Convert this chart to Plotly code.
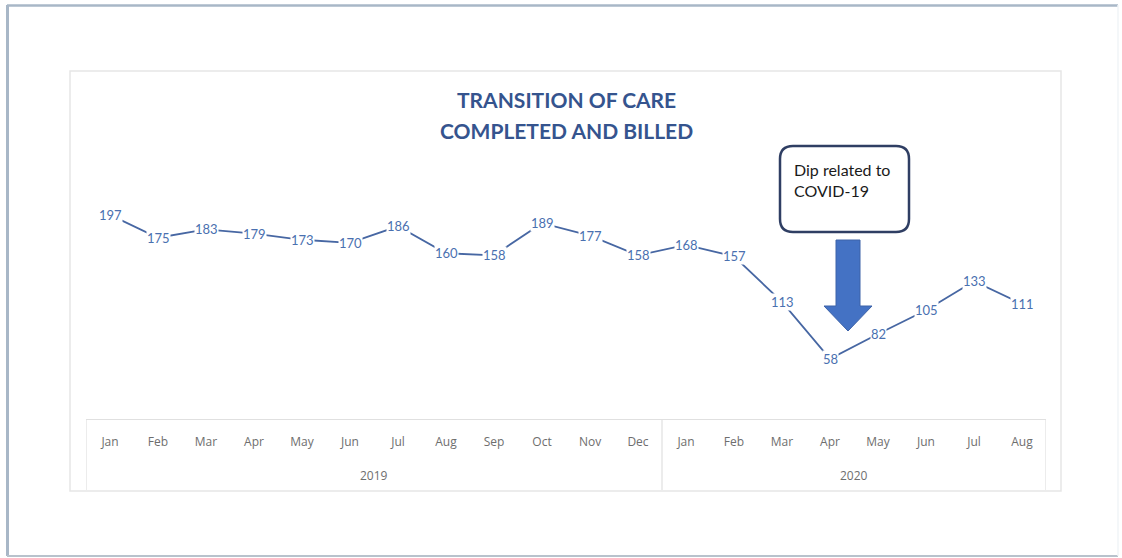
import plotly.graph_objects as go

W, H = 1122, 558

years = ["2019"] * 12 + ["2020"] * 8
months = ["Jan", "Feb", "Mar", "Apr", "May", "Jun", "Jul", "Aug", "Sep", "Oct", "Nov", "Dec",
          "Jan", "Feb", "Mar", "Apr", "May", "Jun", "Jul", "Aug"]
values = [197, 175, 183, 179, 173, 170, 186, 160, 158, 189, 177, 158,
          168, 157, 113, 58, 82, 105, 133, 111]

title_lines = ["TRANSITION OF CARE", "COMPLETED AND BILLED"]
callout_lines = ["Dip related to", "COVID-19"]


def fx(px):
    return px / W


def fy(py):
    return 1 - py / H


idx = list(range(len(values)))

fig = go.Figure()
fig.add_trace(go.Scatter(
    x=idx, y=values, mode="lines",
    line=dict(color="#4767A3", width=1.8),
    hoverinfo="skip", showlegend=False,
))

annotations = []
# data labels with white background (line stops at labels)
for i, v in zip(idx, values):
    annotations.append(dict(
        x=i, y=v, xref="x", yref="y", text=str(v), showarrow=False,
        font=dict(family="Lato", size=13, color="#4A70B0"),
        bgcolor="white", borderpad=0, xanchor="center", yanchor="middle",
    ))

# year group labels and dividers, computed from the years list
groups = []
for i, yv in enumerate(years):
    if not groups or groups[-1][0] != yv:
        groups.append([yv, i, i])
    else:
        groups[-1][2] = i

shapes = []
for yv, a, b in groups:
    annotations.append(dict(
        x=(a + b) / 2, y=fy(475), xref="x", yref="paper", text=yv, showarrow=False,
        font=dict(family="Open Sans", size=12, color="#6E6E6E"),
        xanchor="center", yanchor="middle",
    ))
bounds = [g[1] - 0.5 for g in groups] + [groups[-1][2] + 0.5]
for bx in bounds:
    shapes.append(dict(type="line", xref="x", yref="paper", x0=bx, x1=bx,
                       y0=fy(419), y1=fy(490), line=dict(color="#E0E0E0", width=1.2)))

# title
for line, ypx in zip(title_lines, [99, 130]):
    annotations.append(dict(
        x=fx(566), y=fy(ypx), xref="paper", yref="paper",
        text="<b>" + line + "</b>", showarrow=False,
        font=dict(family="Lato", size=21, color="#35548E"),
        xanchor="center", yanchor="middle",
    ))

# callout text
for line, ypx in zip(callout_lines, [169, 190]):
    annotations.append(dict(
        x=fx(792), y=fy(ypx), xref="paper", yref="paper",
        text=line, showarrow=False, align="left",
        font=dict(family="Lato", size=16, color="#1a1a1a"),
        xanchor="left", yanchor="middle",
    ))


def rounded_rect(x0, y0, x1, y1, r):
    X0, X1 = fx(x0), fx(x1)
    Y0, Y1 = fy(y0), fy(y1)
    rx, ry = r / W, r / H
    return (f"M {X0+rx},{Y0} L {X1-rx},{Y0} Q {X1},{Y0} {X1},{Y0-ry} "
            f"L {X1},{Y1+ry} Q {X1},{Y1} {X1-rx},{Y1} "
            f"L {X0+rx},{Y1} Q {X0},{Y1} {X0},{Y1+ry} "
            f"L {X0},{Y0-ry} Q {X0},{Y0} {X0+rx},{Y0} Z")


arrow_pts = [(836, 240), (860, 240), (860, 306), (872, 306), (848, 331),
             (824, 306), (836, 306)]
arrow_path = "M " + " L ".join(f"{fx(x)},{fy(y)}" for x, y in arrow_pts) + " Z"

frame_col = "#A8B7C7"
shapes += [
    # outer frame
    dict(type="line", xref="paper", yref="paper", x0=fx(7), x1=fx(1118), y0=fy(5.5), y1=fy(5.5),
         line=dict(color=frame_col, width=2.5)),
    dict(type="line", xref="paper", yref="paper", x0=fx(7.5), x1=fx(7.5), y0=fy(5), y1=fy(556),
         line=dict(color=frame_col, width=3)),
    dict(type="line", xref="paper", yref="paper", x0=fx(7), x1=fx(1118), y0=fy(556), y1=fy(556),
         line=dict(color="#B8C2CC", width=2)),
    dict(type="line", xref="paper", yref="paper", x0=fx(1118), x1=fx(1118), y0=fy(5), y1=fy(556),
         line=dict(color="#F1F4F7", width=1.5)),
    # chart area frame
    dict(type="rect", xref="paper", yref="paper", x0=fx(70), y0=fy(491), x1=fx(1061), y1=fy(71),
         line=dict(color="#E6E6E6", width=1.5), fillcolor="rgba(0,0,0,0)", layer="below"),
    # callout box
    dict(type="path", xref="paper", yref="paper", path=rounded_rect(780, 146, 909, 232, 13),
         line=dict(color="#2F3E63", width=2.5), fillcolor="white"),
    # arrow
    dict(type="path", xref="paper", yref="paper", path=arrow_path,
         line=dict(color="#3C62A8", width=1), fillcolor="#4472C4"),
]

fig.update_layout(
    width=W, height=H,
    margin=dict(l=0, r=0, t=0, b=0),
    paper_bgcolor="white", plot_bgcolor="white",
    showlegend=False,
    annotations=annotations,
    shapes=shapes,
    xaxis=dict(
        domain=[fx(86), fx(1046)],
        range=[-0.5, len(values) - 0.5],
        tickvals=idx, ticktext=months,
        showline=True, linecolor="#E0E0E0", linewidth=1.2,
        showgrid=False, zeroline=False, ticks="",
        ticklabelstandoff=11,
        tickfont=dict(family="Open Sans", size=12, color="#6E6E6E"),
        fixedrange=True,
    ),
    yaxis=dict(
        domain=[fy(419), fy(160)],
        range=[0, 250],
        visible=False, showgrid=False, zeroline=False,
        fixedrange=True,
    ),
)

fig.write_html(
    "out.html",
    config={"displayModeBar": False},
    post_script="document.body.style.margin='0px';document.body.style.overflow='hidden';",
)
